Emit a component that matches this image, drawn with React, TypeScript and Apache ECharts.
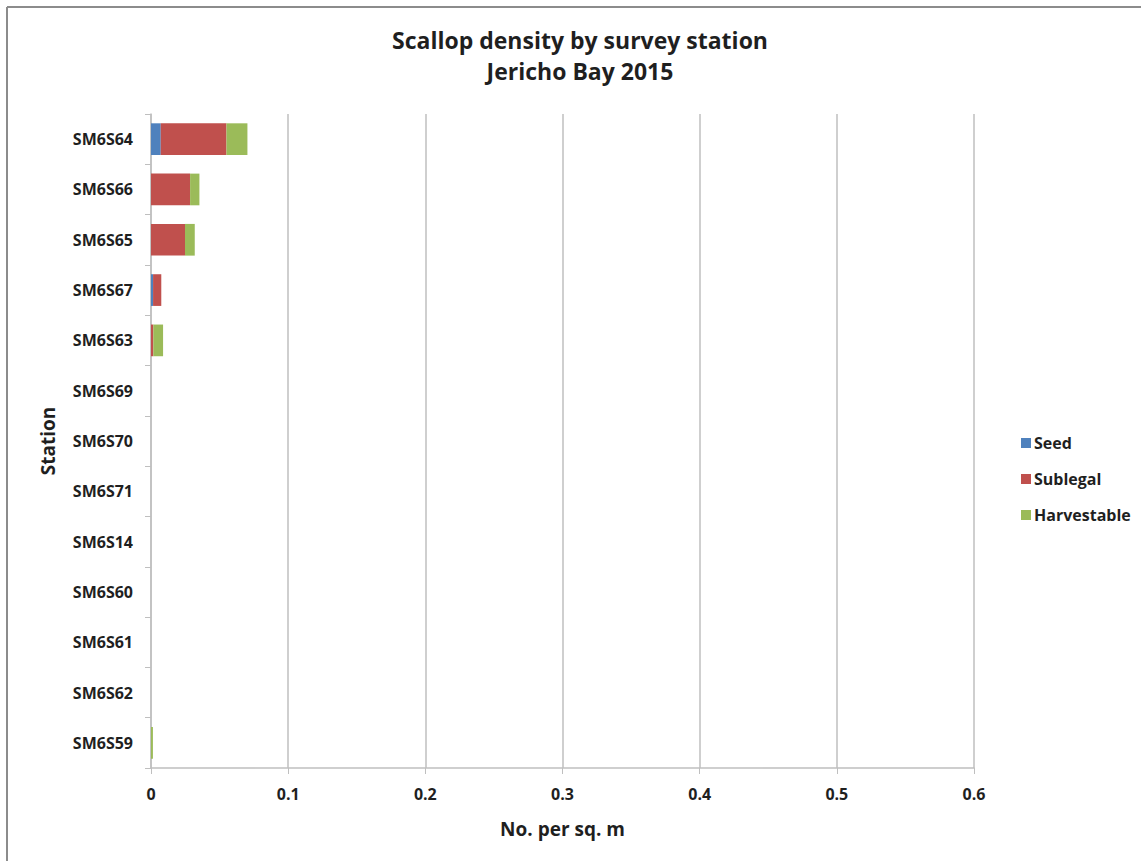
import React, { useEffect, useRef } from "react";
import * as echarts from "echarts";

const stations = ["SM6S64", "SM6S66", "SM6S65", "SM6S67", "SM6S63", "SM6S69", "SM6S70", "SM6S71", "SM6S14", "SM6S60", "SM6S61", "SM6S62", "SM6S59"];
const seed = [0.0071, 0, 0, 0.0015, 0, 0, 0, 0, 0, 0, 0, 0, 0];
const sublegal = [0.0479, 0.0285, 0.0248, 0.006, 0.0017, 0, 0, 0, 0, 0, 0, 0, 0];
const harvestable = [0.0153, 0.0068, 0.0071, 0, 0.0071, 0, 0, 0, 0, 0, 0, 0, 0.0014];
const xTicks = [0, 0.1, 0.2, 0.3, 0.4, 0.5, 0.6];

const FONT = "Open Sans";
const TXT = "#1f1f1f";

export default function App() {
  const ref = useRef<HTMLDivElement>(null);
  useEffect(() => {
    const chart = echarts.init(ref.current!, null, { renderer: "svg" });
    const mk = (name: string, data: number[], color: string) => ({
      name,
      type: "bar",
      stack: "total",
      data,
      barWidth: "63%",
      itemStyle: { color },
    });
    chart.setOption({
      animation: false,
      backgroundColor: "#ffffff",
      title: {
        text: "Scallop density by survey station\nJericho Bay 2015",
        left: 575,
        textAlign: "center",
        top: 19,
        textStyle: { fontFamily: FONT, fontSize: 23, fontWeight: "bold", color: TXT, lineHeight: 31 },
      },
      legend: {
        orient: "vertical",
        left: 1016,
        top: 430,
        itemWidth: 10,
        itemHeight: 10,
        itemGap: 20,
        icon: "rect",
        textStyle: { fontFamily: FONT, fontSize: 16, fontWeight: "bold", color: TXT, padding: [0, 0, 0, -2] },
        data: ["Seed", "Sublegal", "Harvestable"],
      },
      grid: { left: 151, right: 167, top: 114, bottom: 93 },
      xAxis: {
        type: "value",
        min: 0,
        max: 0.6,
        interval: 0.1,
        name: "No. per sq. m",
        nameLocation: "middle",
        nameGap: 51,
        nameTextStyle: { fontFamily: FONT, fontSize: 19, fontWeight: "bold", color: TXT },
        axisLine: { show: true, lineStyle: { color: "#bfbfbf", width: 1.5 } },
        axisTick: { show: true, length: 6, lineStyle: { color: "#bfbfbf" } },
        axisLabel: {
          margin: 18,
          fontFamily: FONT,
          fontSize: 16,
          fontWeight: "bold",
          color: TXT,
          formatter: (v: number) => {
            const t = xTicks.find((x) => Math.abs(x - v) < 1e-9);
            return t === undefined ? "" : String(t);
          },
        },
        splitLine: { show: true, lineStyle: { color: "#bfbfbf", width: 1.5 } },
      },
      yAxis: {
        type: "category",
        inverse: true,
        data: stations,
        name: "Station",
        nameLocation: "middle",
        nameGap: 94,
        nameRotate: 90,
        nameTextStyle: { fontFamily: FONT, fontSize: 19, fontWeight: "bold", color: TXT },
        axisLine: { show: true, lineStyle: { color: "#bfbfbf", width: 1.5 } },
        axisTick: { show: true, length: 6, lineStyle: { color: "#bfbfbf" } },
        axisLabel: { margin: 18, fontFamily: FONT, fontSize: 16, fontWeight: "bold", color: TXT },
      },
      series: [
        mk("Seed", seed, "#4F81BD"),
        mk("Sublegal", sublegal, "#C0504D"),
        mk("Harvestable", harvestable, "#9BBB59"),
      ],
      graphic: [
        { type: "line", shape: { x1: 7, y1: 7, x2: 1141, y2: 7 }, style: { stroke: "#8c8c8c", lineWidth: 2 } },
        { type: "line", shape: { x1: 7, y1: 7, x2: 7, y2: 861 }, style: { stroke: "#8c8c8c", lineWidth: 2 } },
      ],
    });
    return () => chart.dispose();
  }, []);
  return <div ref={ref} style={{ position: "absolute", left: 0, top: 0, width: 1141, height: 861 }} />;
}
